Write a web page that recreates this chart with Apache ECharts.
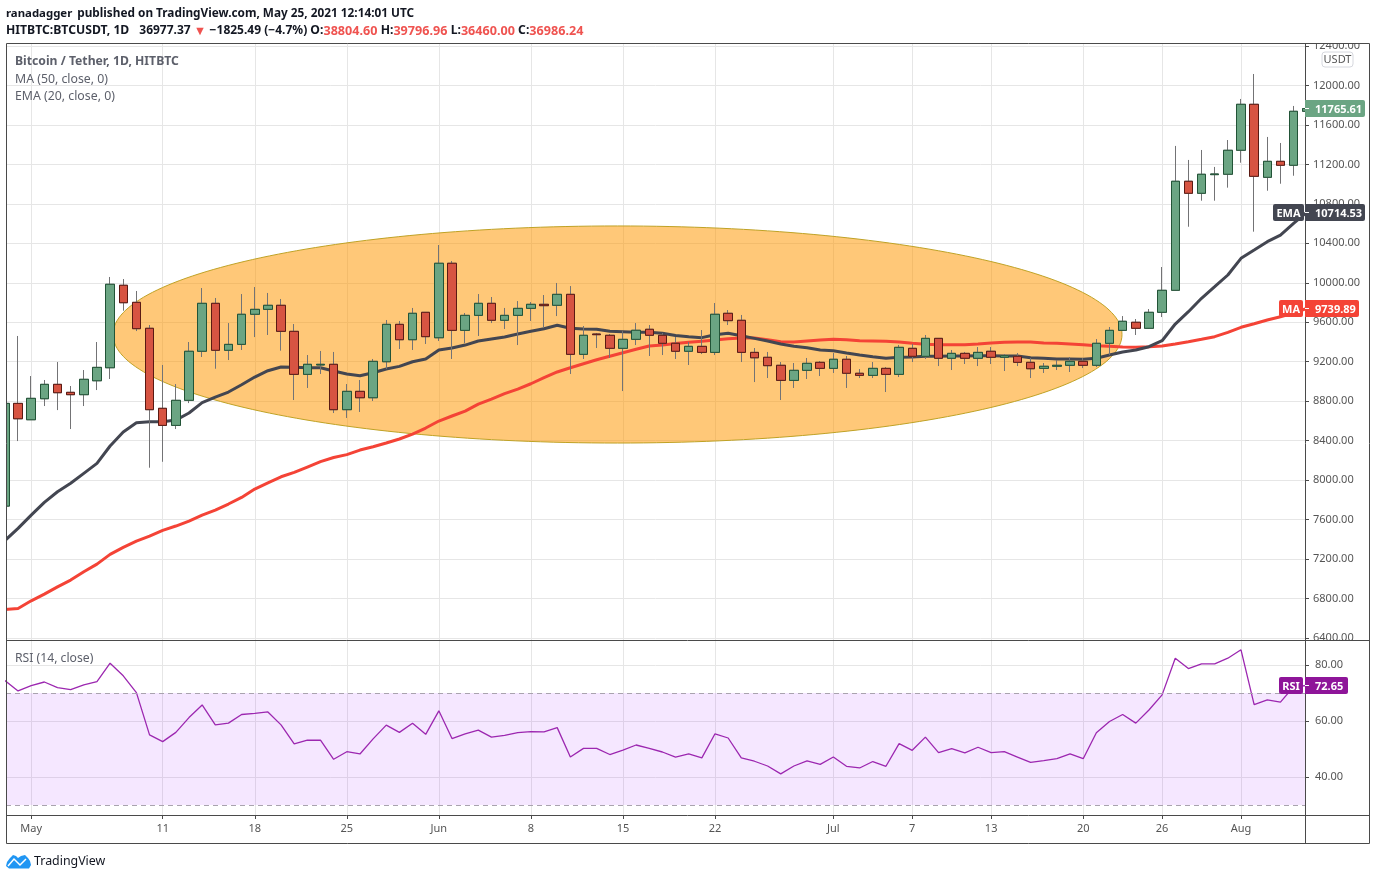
<!DOCTYPE html>
<html><head><meta charset="utf-8">
<style>html,body{margin:0;padding:0;background:#fff}#c{width:1376px;height:880px}</style>
<script src="https://cdn.jsdelivr.net/npm/echarts@6/dist/echarts.min.js"></script>
</head><body><div id="c"></div>
<script>
// Day index 0 = 29 Apr, one entry per day through 6 Aug
const opens  = [7737,8778,8612,8825,8971,8890,8866,9007,9139,9975,9802,9539,8728,8555,8809,9306,9792,9316,9376,9681,9731,9772,9508,9072,9167,9174,8714,8900,8835,9200,9579,9423,9701,9443,10198,9518,9670,9792,9620,9670,9741,9782,9772,9883,9275,9481,9468,9336,9427,9529,9468,9387,9306,9356,9295,9691,9620,9295,9245,9164,9011,9113,9194,9133,9225,9083,9062,9133,9072,9336,9255,9437,9235,9285,9235,9306,9245,9255,9194,9133,9154,9164,9204,9164,9387,9518,9600,9539,9701,9924,11029,10907,11096,11100,11343,11809,11069,11231,11191,11738];
const closes = [8778,8622,8829,8971,8886,8866,9022,9143,9985,9798,9535,8714,8555,8809,9306,9792,9316,9376,9681,9731,9772,9508,9072,9174,9174,8714,8900,8835,9204,9579,9423,9691,9454,10198,9518,9670,9792,9620,9670,9741,9782,9768,9883,9275,9468,9474,9336,9427,9519,9468,9387,9306,9356,9295,9681,9616,9295,9240,9160,9011,9113,9184,9133,9225,9083,9062,9133,9072,9346,9255,9437,9235,9285,9235,9295,9245,9261,9194,9129,9154,9164,9204,9164,9387,9518,9610,9539,9701,9924,11029,10907,11100,11103,11343,11809,11079,11231,11191,11738,11765.61];
const lows   = [7650,8396,8609,8751,8710,8518,8751,8913,9025,9717,9511,8126,8186,8518,8781,9248,9129,9217,9319,9450,9471,9312,8812,8934,9076,8680,8630,8691,8802,9126,9329,9319,9380,9410,9228,9390,9461,9592,9532,9369,9613,9542,9663,9076,9228,9339,9238,8903,9369,9258,9268,9228,9167,9278,9268,9572,9197,8994,9035,8812,8934,9025,9055,9086,8934,9035,9035,8893,9045,9197,9228,9156,9116,9177,9156,9177,9106,9156,9035,9086,9116,9096,9136,9146,9268,9511,9471,9532,9653,9924,10568,10832,10832,10964,11217,10518,10933,11004,11085,11730];
const highs  = [8800,9461,9055,9015,9197,8954,9116,9400,10059,10038,9917,9572,9167,8974,9400,9947,9846,9592,9886,9957,9897,9836,9582,9268,9309,9299,8974,9015,9228,9623,9613,9745,9704,10383,10221,9694,9886,9856,9745,9815,9805,9876,9998,9967,9562,9491,9481,9511,9592,9572,9491,9451,9400,9521,9795,9724,9674,9339,9299,9197,9187,9238,9207,9288,9258,9126,9197,9146,9370,9380,9471,9440,9319,9299,9349,9349,9278,9288,9238,9187,9217,9248,9238,9430,9552,9663,9633,9734,10160,11387,11245,11346,11174,11447,11863,12116,11478,11417,11792,11780];
const emaValues = [7388,7511,7646,7775,7882,7968,8069,8170,8346,8488,8582,8592,8592,8609,8680,8785,8842,8893,8967,9045,9109,9146,9143,9139,9139,9106,9075,9058,9089,9126,9153,9200,9227,9319,9339,9369,9410,9430,9450,9481,9508,9535,9569,9539,9532,9529,9508,9504,9498,9498,9488,9466,9454,9444,9474,9488,9464,9437,9410,9380,9356,9342,9319,9312,9288,9268,9251,9235,9245,9248,9255,9255,9258,9258,9261,9261,9258,9258,9241,9235,9228,9228,9225,9235,9268,9299,9319,9352,9413,9582,9707,9843,9960,10079,10248,10332,10417,10484,10603,10714.53];
const maValues = [6688,6700,6777,6845,6919,6987,7071,7149,7248,7319,7382,7433,7491,7535,7585,7646,7697,7758,7825,7910,7973,8034,8079,8133,8187,8229,8259,8305,8338,8376,8417,8467,8528,8599,8650,8700,8771,8822,8876,8923,8977,9038,9096,9139,9180,9220,9255,9291,9326,9359,9369,9385,9397,9407,9420,9433,9440,9440,9423,9403,9400,9410,9420,9427,9423,9413,9410,9407,9400,9387,9377,9373,9373,9373,9380,9390,9397,9400,9400,9390,9387,9380,9373,9362,9356,9349,9346,9352,9359,9380,9403,9427,9454,9498,9549,9585,9623,9656,9694,9739.89];
const rsiValues = [74.4,70.7,72.6,73.9,71.9,71.2,72.9,74,80.6,76.1,70.1,55,52.6,55.9,61.2,65.7,58.6,59.2,62.3,62.7,63.2,58.6,51.8,53.1,53.1,46.3,49,48.2,53.6,58.5,55.9,59.2,55.2,63.6,53.7,55.4,56.7,54.2,54.8,55.8,56.2,56.1,57.6,47.1,50.2,50.2,48,49.6,51.4,50.2,48.9,47.1,48.2,46.8,55.4,53.9,46.8,45.6,43.9,41.1,43.9,45.7,44.5,47.1,43.8,43.2,45.5,43.8,51.9,49.5,54.2,48.7,50.1,48.6,50.6,48.7,49,47.1,45.2,45.8,46.5,48.2,46.5,55.8,59.8,62.3,59.2,63.9,69.3,82.4,78.7,80.4,80.4,82.4,85.4,65.8,67.5,66.7,72.2,72.65];
const priceTicks = [6400,6800,7200,7600,8000,8400,8800,9200,9600,10000,10400,10800,11200,11600,12000,12400];
const rsiTicks = [40,60,80];
const rsiBand = [30,70];
const dayTicks = [2,12,19,26,33,40,47,54,63,69,75,82,88,94];
const dayLabels = ['May','11','18','25','Jun','8','15','22','Jul','7','13','20','26','Aug'];
const ellipseDays = [8.22,84.95];
const ellipsePrices = [8376,10576];
const lastPrice = 11765.61, lastEma = 10714.53, lastMa = 9739.89, lastRsi = 72.65, lastDay = 99;

const FONT = '"Noto Sans","Open Sans",sans-serif';
const L = 6, R = 1305, W = R - L;
const dayMin = (L - 4.9) / 13.15, dayMax = (R - 4.9) / 13.15;
const chart = echarts.init(document.getElementById('c'));
const idx = opens.map((_, i) => i);
const full = idx.map(i => [i, opens[i], closes[i], lows[i], highs[i]]);
const body = idx.map(i => [i, opens[i], closes[i], Math.min(opens[i], closes[i]), Math.max(opens[i], closes[i])]);
const grid = '#e6e6e6', frame = '#4a4a4a', axisText = '#555';
const xBase = {type:'value', min:dayMin, max:dayMax, axisTick:{customValues:dayTicks, show:false}, axisLabel:{customValues:dayTicks, show:false},
  splitLine:{show:true, lineStyle:{color:grid, width:1}}, axisLine:{show:false}};
function yAxis(ticks,min,max,grid_i,margin){return {type:'value',gridIndex:grid_i,position:'right',min,max,scale:true,
  axisTick:{customValues:ticks,show:true,length:4,lineStyle:{color:frame}},
  axisLabel:{customValues:ticks,color:axisText,fontSize:11,fontFamily:FONT,margin,padding:[2,0,0,0],formatter:v=>(+v).toFixed(2),hideOverlap:false,showMinLabel:true,showMaxLabel:true},
  axisLine:{show:false},splitLine:{show:true,lineStyle:{color:grid,width:1}}};}

chart.setOption({
  animation:false, backgroundColor:'#fff',
  title:[
    {left:6,top:5,padding:0,text:'{b|ranadagger} {n|published on TradingView.com, May 25, 2021 12:14:01 UTC}',
      textStyle:{rich:{b:{fontFamily:FONT,fontSize:11.4,fontWeight:'bold',color:'#131722'},n:{fontFamily:FONT,fontSize:11.8,color:'#131722'}}}},
    {left:6,top:22,padding:0,text:'{b|HITBTC:BTCUSDT, 1D}  {n|36977.37 }{r|▼ }{n|−1825.49 (−4.7%) }{b|O:}{r|38804.60 }{b|H:}{r|39796.96 }{b|L:}{r|36460.00 }{b|C:}{r|36986.24}',
      textStyle:{rich:{b:{fontFamily:FONT,fontSize:12.2,fontWeight:'bold',color:'#131722'},n:{fontFamily:FONT,fontSize:12,color:'#131722'},r:{fontFamily:FONT,fontSize:12.6,color:'#ef5350'}}}},
    {left:15,top:56,padding:0,text:'Bitcoin / Tether, 1D, HITBTC',textStyle:{fontFamily:FONT,fontSize:12.2,fontWeight:'bold',color:'#5d606b'}},
    {left:15,top:73,padding:0,text:'MA (50, close, 0)',textStyle:{fontFamily:FONT,fontSize:12.3,fontWeight:'normal',color:'#5d606b'}},
    {left:15,top:90,padding:0,text:'EMA (20, close, 0)',textStyle:{fontFamily:FONT,fontSize:12.3,fontWeight:'normal',color:'#5d606b'}},
    {left:15,top:653,padding:0,text:'RSI (14, close)',textStyle:{fontFamily:FONT,fontSize:12.2,fontWeight:'normal',color:'#5d606b'}}
  ],
  grid:[
    {left:L,width:W,top:44,height:596,show:true,borderWidth:0,backgroundColor:'#fff'},
    {left:L,width:W,top:640,height:175,show:true,borderWidth:0,backgroundColor:'#fff'}
  ],
  xAxis:[
    Object.assign({gridIndex:0},xBase),
    Object.assign({gridIndex:1},xBase,{
      axisTick:{customValues:dayTicks,show:true,length:4,lineStyle:{color:frame}},
      axisLabel:{customValues:dayTicks,show:true,color:axisText,fontSize:11,fontFamily:FONT,margin:8,
        formatter:v=>dayLabels[dayTicks.indexOf(Math.round(v))]}})
  ],
  yAxis:[
    yAxis(priceTicks,6380,12420,0,8),
    yAxis(rsiTicks,26.4,88.9,1,10)
  ],
  series:[
    {type:'custom',xAxisIndex:0,yAxisIndex:0,z:1,silent:true,clip:true,
     data:[[ellipseDays[0],ellipsePrices[0],ellipseDays[1],ellipsePrices[1]]],
     encode:{x:[0,2],y:[1,3]},
     renderItem:(p,api)=>{
       const a=api.coord([api.value(0),api.value(1)]),b=api.coord([api.value(2),api.value(3)]);
       return {type:'ellipse',shape:{cx:(a[0]+b[0])/2,cy:(a[1]+b[1])/2,rx:Math.abs(b[0]-a[0])/2,ry:Math.abs(b[1]-a[1])/2},
         style:{fill:'rgba(255,152,0,0.53)',stroke:'#bfa225',lineWidth:1}};
     }},
    {type:'line',name:'MA',data:idx.map(i=>[i,maValues[i]]),showSymbol:false,symbol:'none',z:3,silent:true,lineStyle:{color:'#f44336',width:3},xAxisIndex:0,yAxisIndex:0},
    {type:'line',name:'EMA',data:idx.map(i=>[i,emaValues[i]]),showSymbol:false,symbol:'none',z:3,silent:true,lineStyle:{color:'#434651',width:3},xAxisIndex:0,yAxisIndex:0},
    {type:'candlestick',name:'wick',data:full,barWidth:9,z:4,clip:true,xAxisIndex:0,yAxisIndex:0,silent:true,
     itemStyle:{color:'#737375',color0:'#737375',borderColor:'#737375',borderColor0:'#737375',borderColorDoji:'#737375',borderWidth:1}},
    {type:'candlestick',name:'body',data:body,barWidth:9,z:5,clip:true,xAxisIndex:0,yAxisIndex:0,silent:true,
     itemStyle:{color:'#6ba583',color0:'#d75442',borderColor:'#225437',borderColor0:'#5b1a13',borderColorDoji:'#225437',borderWidth:1}},
    {type:'line',name:'RSI',data:idx.map(i=>[i,rsiValues[i]]),showSymbol:false,symbol:'none',z:3,silent:true,xAxisIndex:1,yAxisIndex:1,lineStyle:{color:'#9c27b0',width:1.3},
     markArea:{silent:true,itemStyle:{color:'rgba(153,21,255,0.1)'},data:[[{yAxis:rsiBand[0]},{yAxis:rsiBand[1]}]]},
     markLine:{silent:true,symbol:'none',label:{show:false},lineStyle:{color:'#a9a3ae',type:[5,4],width:1},data:[{yAxis:rsiBand[0]},{yAxis:rsiBand[1]}]}}
  ]
});

function tag(y,x0,x1,x2,x3,color,name,val){
  const h=17, top=Math.round(y-h/2), els=[];
  if(name){
    els.push({type:'rect',z:60,shape:{x:x0,y:top,width:x1-x0,height:h,r:2},style:{fill:color}});
    els.push({type:'text',z:61,style:{x:(x0+x1)/2,y:top+h/2+1,text:name,align:'center',verticalAlign:'middle',fill:'#fff',font:'bold 11px '+FONT}});
  }
  els.push({type:'rect',z:60,shape:{x:x2,y:top,width:x3-x2,height:h,r:[0,2,2,0]},style:{fill:color}});
  els.push({type:'line',z:61,shape:{x1:x2,y1:top+h/2,x2:x2+4,y2:top+h/2},style:{stroke:'#fff',lineWidth:1}});
  els.push({type:'text',z:61,style:{x:x2+10,y:top+h/2+1,text:val,align:'left',verticalAlign:'middle',fill:'#fff',font:'bold 11px '+FONT}});
  return els;
}
const py=v=>chart.convertToPixel({gridIndex:0},[0,v])[1];
const ry=v=>chart.convertToPixel({gridIndex:1},[0,v])[1];
const gfx=[
  {type:'rect',z:50,shape:{x:0,y:44,width:6.5,height:600},style:{fill:'#fff'}},
  {type:'rect',z:50,shape:{x:1306,y:34,width:64,height:9.5},style:{fill:'#fff'}},
  {type:'rect',z:50,shape:{x:1306,y:640.5,width:63,height:9},style:{fill:'#fff'}},
  {type:'rect',z:55,shape:{x:6.5,y:43.5,width:1363,height:800},style:{fill:'none',stroke:frame,lineWidth:1}},
  {type:'line',z:55,shape:{x1:1305.5,y1:44,x2:1305.5,y2:843},style:{stroke:frame,lineWidth:1}},
  {type:'line',z:55,shape:{x1:6,y1:640.5,x2:1369,y2:640.5},style:{stroke:frame,lineWidth:1}},
  {type:'line',z:55,shape:{x1:6,y1:815.5,x2:1369,y2:815.5},style:{stroke:frame,lineWidth:1}},
  {type:'rect',z:58,shape:{x:1322,y:52,width:31,height:15,r:3},style:{fill:'#fff',stroke:'#d6d8de',lineWidth:1}},
  {type:'text',z:59,style:{x:1337.5,y:60,text:'USDT',align:'center',verticalAlign:'middle',fill:axisText,font:'11px '+FONT}},
  {type:'polygon',z:60,shape:{points:[[6,866],[7,862],[10,858],[13,855],[16,856],[18,858],[21,856],[25,855],[28,858],[30,861],[31,865],[29,868.5],[9,868.5]]},style:{fill:'#2196f3'}},
  {type:'polyline',z:61,shape:{points:[[8,866],[14,859],[20,865],[26,859]]},style:{stroke:'#fff',fill:'none',lineWidth:1.5}},
  {type:'text',z:60,style:{x:34,y:861.5,text:'TradingView',align:'left',verticalAlign:'middle',fill:'#131722',font:'12.4px '+FONT}}
]
.concat(tag(py(lastPrice),0,0,1305,1365,'#6ba583',null,lastPrice.toFixed(2)))
.concat(tag(py(lastEma),1273,1304,1305,1365,'#434651','EMA',lastEma.toFixed(2)))
.concat(tag(py(lastMa),1279,1303,1305,1359,'#f44336','MA',lastMa.toFixed(2)))
.concat(tag(ry(lastRsi),1279,1303,1305,1348,'#8e1599','RSI',lastRsi.toFixed(2)));
chart.setOption({graphic:{elements:gfx}});
</script></body></html>
